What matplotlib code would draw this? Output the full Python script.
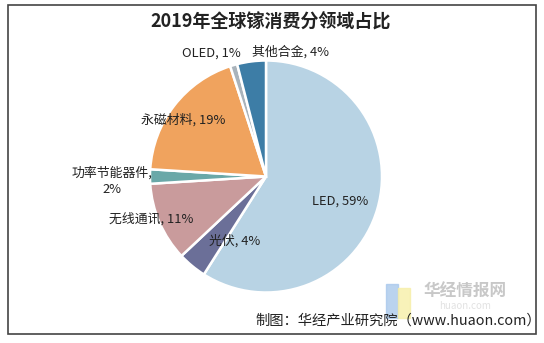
import matplotlib.pyplot as plt
from matplotlib.patches import Rectangle

plt.rcParams['font.family'] = ['Noto Sans CJK SC', 'DejaVu Sans']

# gallium consumption by application, 2019 (%)
fields = ['LED', '光伏', '无线通讯', '功率节能器件', '永磁材料', 'OLED', '其他合金']
shares = [59, 4, 11, 2, 19, 1, 4]
colors = ['#b8d3e4', '#6b6f98', '#c99b9c', '#6aa8a8', '#f0a35e', '#a9b3bb', '#3d7da6']

# where each label sits, in units of the pie radius
label_pos = [(0.64, -0.21), (-0.27, -0.56), (-0.99, -0.37), (-1.33, -0.04),
             (-0.71, 0.49), (-0.47, 1.06), (0.21, 1.07)]

fig = plt.figure(figsize=(5.44, 3.43), dpi=100)

# outer frame
fig.patches.append(Rectangle((8 / 544, 1 - 334 / 343), 528 / 544, 329 / 343,
                             transform=fig.transFigure, fill=False,
                             edgecolor='#444444', linewidth=1.2))

ax = fig.add_axes([(266 - 120) / 544, (343 - 176.5 - 120) / 343, 240 / 544, 240 / 343])
ax.pie(shares, colors=colors, startangle=90, counterclock=False, radius=1,
       wedgeprops=dict(edgecolor='white', linewidth=1.8))
lim = 120 / 116
ax.set_xlim(-lim, lim)
ax.set_ylim(-lim, lim)
ax.set_aspect('equal')
ax.axis('off')

for name, v, (x, y) in zip(fields, shares, label_pos):
    if name == '功率节能器件':
        txt = f'{name},\n{v}%'
    else:
        txt = f'{name}, {v}%'
    ax.text(x, y, txt, ha='center', va='center', fontsize=9.3,
            color='#222222', linespacing=1.25, clip_on=False)

fig.text(271 / 544, 1 - 22 / 343, '2019年全球镓消费分领域占比', ha='center', va='center',
         fontsize=13, fontweight='bold', color='#222222')

# watermark logo
fig.patches.append(Rectangle((386 / 544, 1 - 318 / 343), 12 / 544, 34 / 343,
                             transform=fig.transFigure, color='#a9c8ec', alpha=0.8))
fig.patches.append(Rectangle((398 / 544, 1 - 318 / 343), 12 / 544, 30 / 343,
                             transform=fig.transFigure, color='#f7efa8', alpha=0.8))
fig.text(465 / 544, 1 - 292 / 343, '华经情报网', ha='center', va='center',
         fontsize=12, fontweight='bold', color='#c8c8c8')
fig.text(465 / 544, 1 - 306 / 343, 'huaon.com', ha='center', va='center',
         fontsize=7, color='#e2e2e2')

fig.text(255 / 544, 1 - 321 / 343, '制图：华经产业研究院（www.huaon.com）',
         ha='left', va='center', fontsize=10.3, color='#222222')

fig.savefig('out.png', dpi=100)
